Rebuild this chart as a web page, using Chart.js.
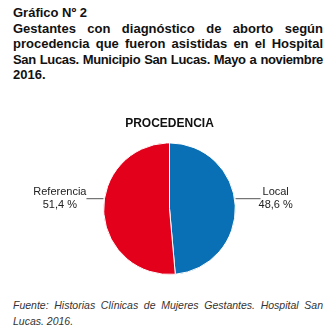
<!DOCTYPE html>
<html>
<head>
<meta charset="utf-8">
<script src="https://cdn.jsdelivr.net/npm/chart.js@4.4.0/dist/chart.umd.min.js"></script>
<style>
  body { margin: 0; width: 336px; height: 335px; background: #fff; position: relative; overflow: hidden; font-family: "Liberation Sans", Arial, sans-serif; }
  #titulo { position: absolute; left: 13px; top: 5px; width: 310px; font-size: 13px; font-weight: bold; line-height: 15.6px; color: #111; }
  #fuente { position: absolute; left: 13px; top: 298px; width: 310px; font-size: 10.5px; font-style: italic; line-height: 15.5px; color: #333; }
  .linea { white-space: nowrap; text-align: justify; text-align-last: justify; }
  .ultima { white-space: nowrap; }
  #grafica { position: absolute; left: 0; top: 100px; width: 336px; height: 190px; }
</style>
</head>
<body>
<div id="titulo">
  <div class="ultima">Gráfico Nº 2</div>
  <div class="linea">Gestantes con diagnóstico de aborto según</div>
  <div class="linea">procedencia que fueron asistidas en el Hospital</div>
  <div class="linea" style="letter-spacing:-0.35px;word-spacing:-1px">San Lucas. Municipio San Lucas. Mayo a noviembre</div>
  <div class="ultima">2016.</div>
</div>
<div id="grafica"><canvas id="myChart"></canvas></div>
<div id="fuente">
  <div class="linea">Fuente: Historias Clínicas de Mujeres Gestantes. Hospital San</div>
  <div class="ultima">Lucas. 2016.</div>
</div>
<script>
const categorias = ['Local', 'Referencia'];
const porcentajes = [48.6, 51.4];
const colores = ['#0A70B5', '#E3001B'];

// etiquetas con linea guia a cada lado del circulo
const etiquetasPlugin = {
    id: 'etiquetas',
    afterDatasetsDraw(chart) {
        const ctx = chart.ctx;
        const arcs = chart.getDatasetMeta(0).data;
        ctx.save();
        ctx.font = '11px "Liberation Sans", Arial, sans-serif';
        ctx.fillStyle = '#222';
        ctx.strokeStyle = '#555';
        ctx.lineWidth = 1;
        ctx.textBaseline = 'middle';
        arcs.forEach((arc, i) => {
            const r = arc.outerRadius;
            const dy = -10;
            const lineY = arc.y + dy;
            const dx = Math.sqrt(r * r - dy * dy);
            const mid = (arc.startAngle + arc.endAngle) / 2;
            const lado = Math.cos(mid) >= 0 ? 1 : -1;
            const x0 = arc.x + lado * (dx + 1);
            const x1 = x0 + lado * (lado > 0 ? 25 : 17);
            ctx.beginPath();
            ctx.moveTo(x0, lineY);
            ctx.lineTo(x1, lineY);
            ctx.stroke();
            const lineas = [categorias[i], porcentajes[i].toFixed(1).replace('.', ',') + ' %'];
            const ancho = Math.max(...lineas.map(t => ctx.measureText(t).width));
            const centro = lado > 0 ? x1 - 2 + ancho / 2 : x1 - ancho / 2;
            ctx.textAlign = 'center';
            ctx.fillText(lineas[0], centro, lineY - 7);
            ctx.fillText(lineas[1], centro, lineY + 6);
        });
        ctx.restore();
    }
};

const ctx = document.getElementById('myChart').getContext('2d');
const myChart = new Chart(ctx, {
    type: 'pie',
    data: {
        labels: categorias,
        datasets: [{
            data: porcentajes,
            backgroundColor: colores,
            borderColor: '#ffffff',
            borderWidth: 1
        }]
    },
    options: {
        responsive: true,
        maintainAspectRatio: false,
        animation: false,
        layout: { padding: { left: 3, right: 0, top: 0, bottom: 15 } },
        plugins: {
            legend: { display: false },
            tooltip: { enabled: false },
            title: {
                display: true,
                text: 'PROCEDENCIA',
                color: '#111',
                font: { family: '"Liberation Sans", Arial, sans-serif', size: 12, weight: 'bold', lineHeight: 1.2 },
                padding: { top: 16, bottom: 12 }
            }
        }
    },
    plugins: [etiquetasPlugin]
});
</script>
</body>
</html>
